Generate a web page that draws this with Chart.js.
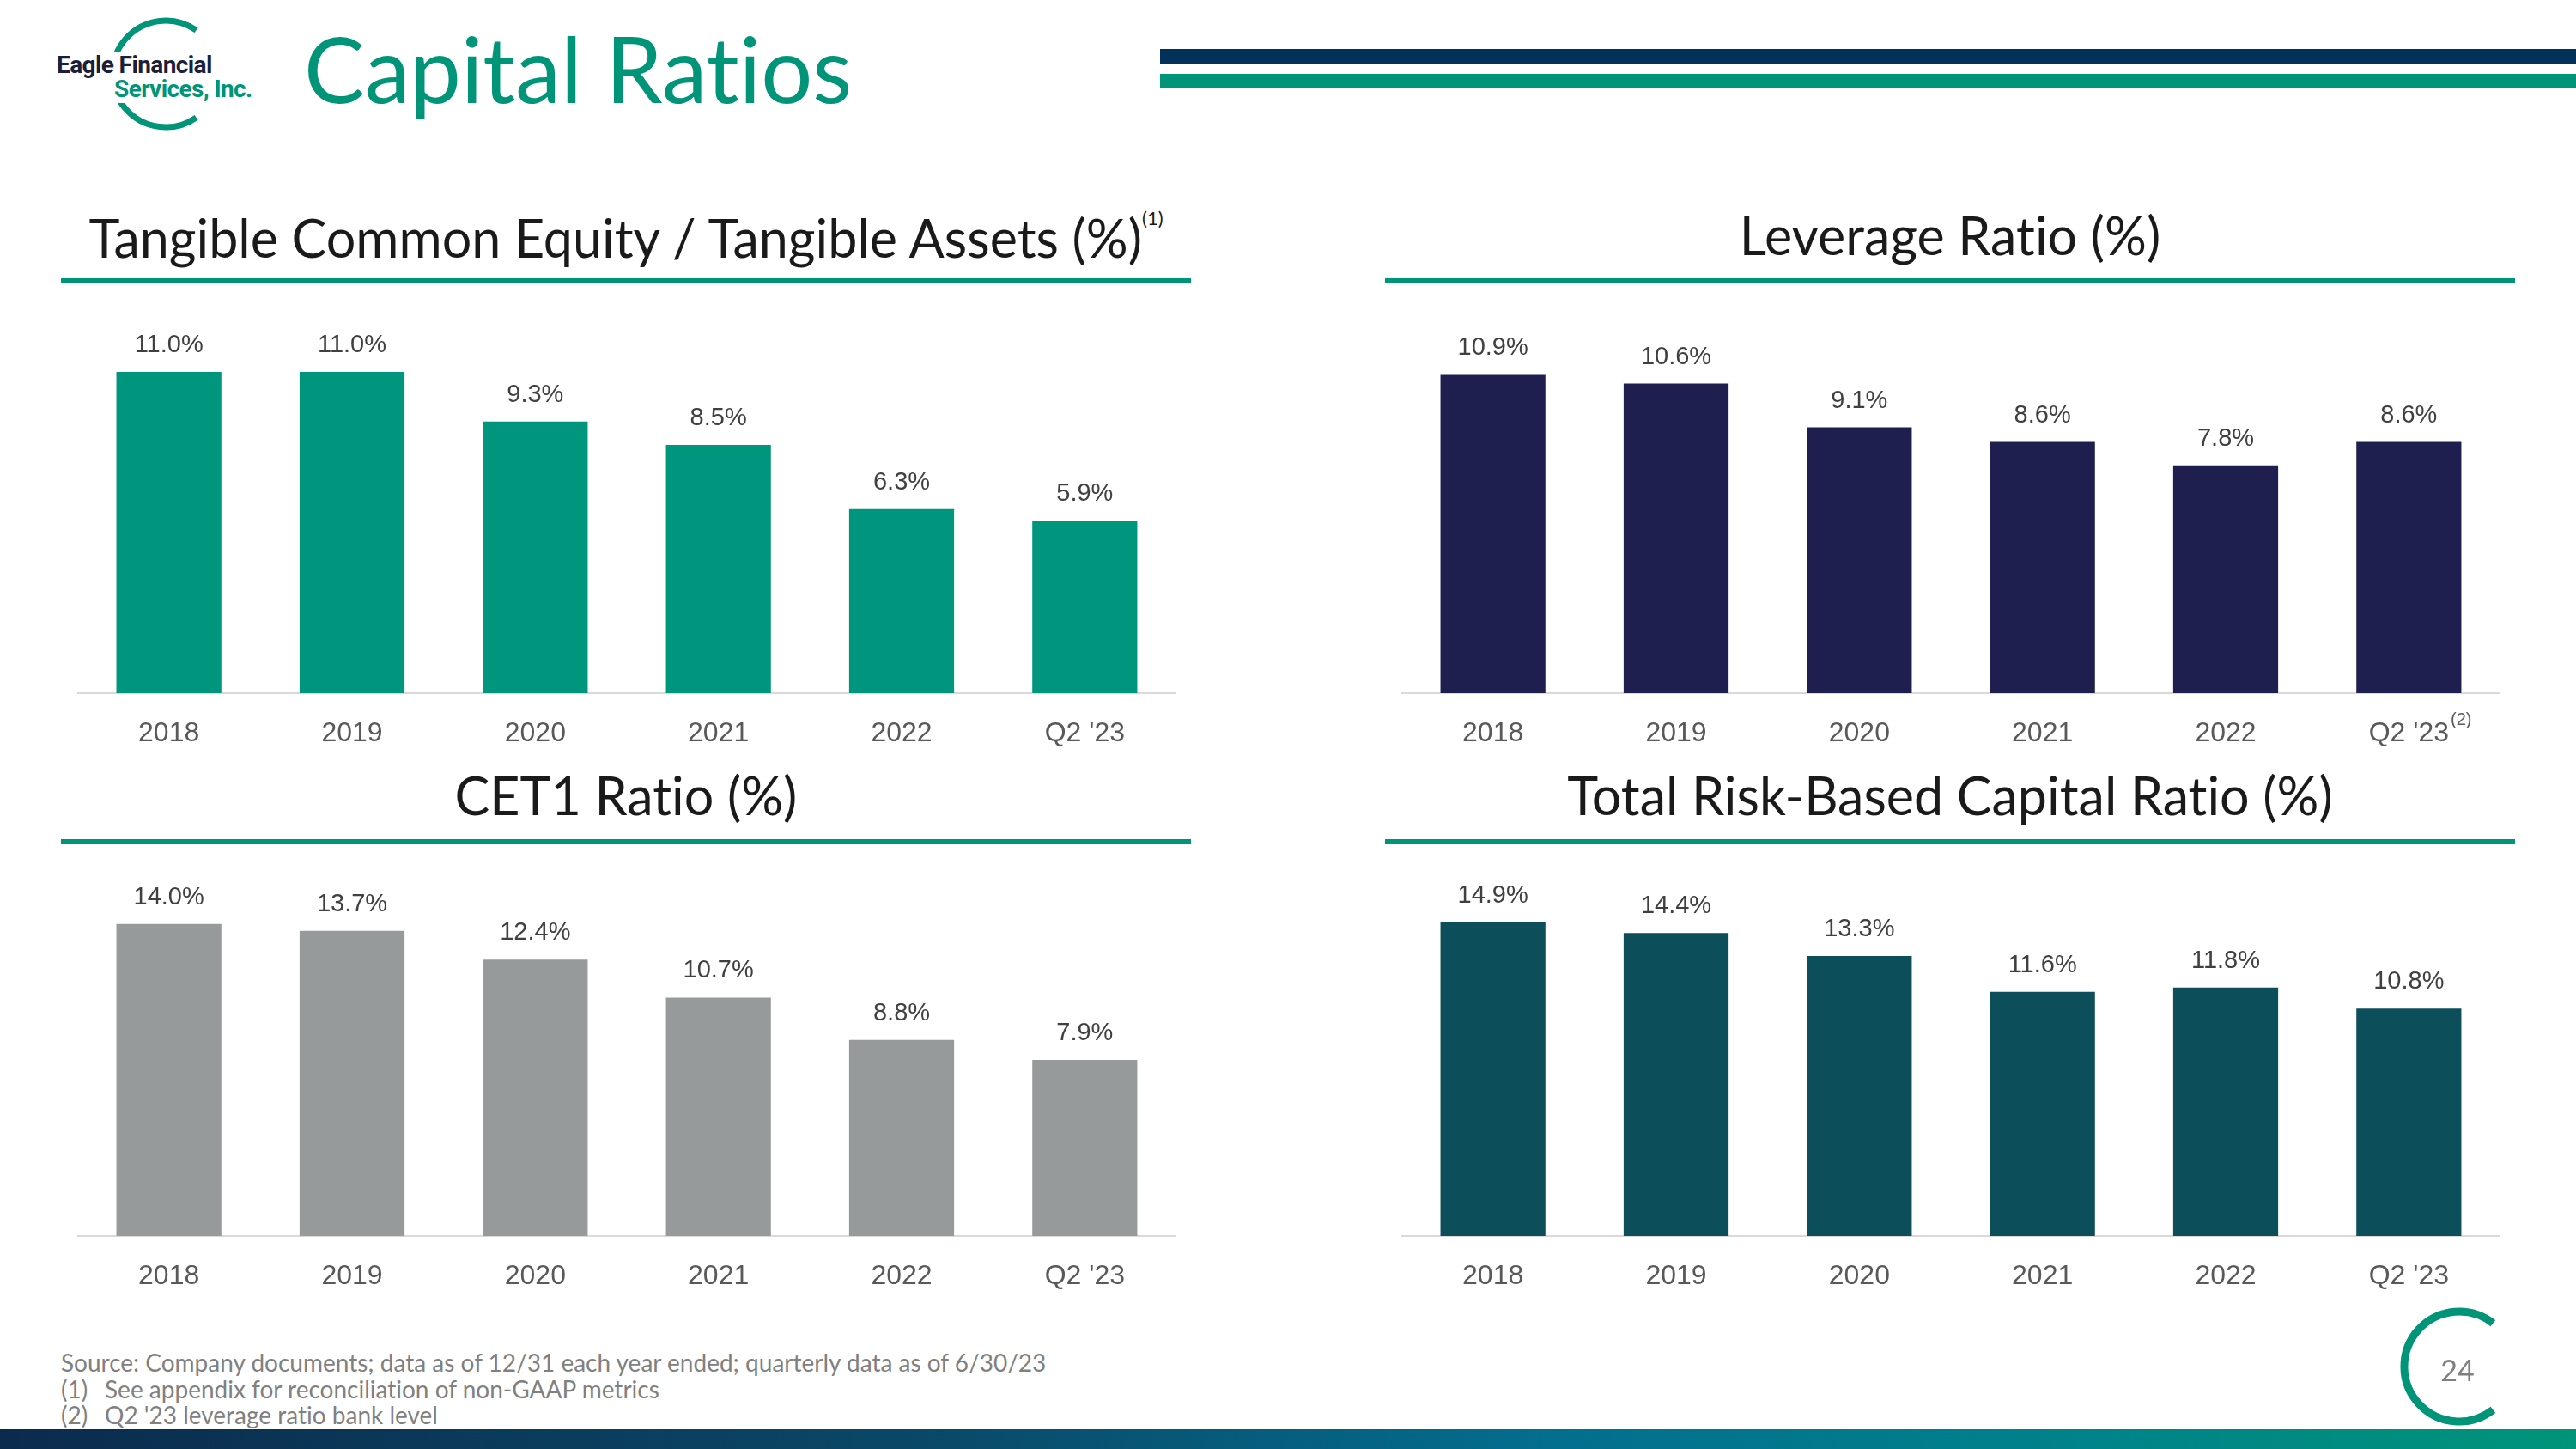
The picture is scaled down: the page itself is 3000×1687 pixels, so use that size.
<!DOCTYPE html>
<html lang="en">
<head>
<meta charset="UTF-8">
<title>Capital Ratios</title>
<script src="https://cdn.jsdelivr.net/npm/chart.js"></script>
<style>
  body { margin: 0; width: 3000px; height: 1687px; position: relative; overflow: hidden; background: #fff; font-family: Lato, Arial, sans-serif; font-variant-ligatures: none; }
  .abs { position: absolute; }
  .title { left: 354px; top: 26px; font-size: 106px; line-height: 1; color: #009479; white-space: nowrap; }
  .bar1 { left: 1351px; top: 57px; width: 1649px; height: 17px; background: #02315a; }
  .bar2 { left: 1351px; top: 86px; width: 1649px; height: 17px; background: #009479; }
  .sec { width: 1316px; text-align: center; font-size: 61px; line-height: 1; color: #1a1a1a; white-space: nowrap; }
  .sec sup { font-size: 22px; vertical-align: 38px; }
  .rule { width: 1316px; height: 6px; background: #009479; }
  .box { position: absolute; }
  .note { left: 71px; font-size: 28px; line-height: 1; color: #808080; white-space: nowrap; }
  .note span { display: inline-block; width: 51px; }
  .foot { left: 0; top: 1664px; width: 3000px; height: 23px;
          background: linear-gradient(90deg, #0b2b4c 0%, #0a4766 35%, #036e8e 60%, #00828a 80%, #009479 100%); }
  .page { left: 2822px; top: 1578px; width: 80px; text-align: center; font-size: 34px; line-height: 1; color: #808080; }
  .logo1, .logo2 { font-family: Roboto, sans-serif; font-weight: 700; font-size: 28px; line-height: 1; background: #fff; letter-spacing: -0.6px; padding: 2px 3px; }
  .logo1 { left: 63px; top: 60px; color: #1b1f3b; }
  .logo2 { left: 122px; top: 88px; color: #009479; padding-left: 11px; }
</style>
</head>
<body>
<svg class="abs" style="left:0;top:0" width="320" height="170">
  <path d="M 228.6 35.2 A 62 62 0 1 0 228.6 136.8" fill="none" stroke="#009479" stroke-width="7"/>
</svg>
<div class="abs logo1">Eagle Financial</div>
<div class="abs logo2">Services, Inc.</div>
<div class="abs title">Capital Ratios</div>
<div class="abs bar1"></div>
<div class="abs bar2"></div>

<div class="abs sec" style="left:71px;top:243px">Tangible Common Equity / Tangible Assets (%)<sup>(1)</sup></div>
<div class="abs sec" style="left:1613px;top:243px">Leverage Ratio (%)</div>
<div class="abs rule" style="left:71px;top:324px"></div>
<div class="abs rule" style="left:1613px;top:324px"></div>
<div class="abs sec" style="left:71px;top:895px">CET1 Ratio (%)</div>
<div class="abs sec" style="left:1613px;top:895px">Total Risk-Based Capital Ratio (%)</div>
<div class="abs rule" style="left:71px;top:977px"></div>
<div class="abs rule" style="left:1613px;top:977px"></div>

<div class="box" style="left:90px;top:330px;width:1280px;height:557px"><canvas id="tce"></canvas></div>
<div class="box" style="left:1632px;top:330px;width:1280px;height:557px"><canvas id="lev"></canvas></div>
<div class="box" style="left:90px;top:985px;width:1280px;height:534px"><canvas id="cet1"></canvas></div>
<div class="box" style="left:1632px;top:985px;width:1280px;height:534px"><canvas id="trbc"></canvas></div>

<div class="abs note" style="top:1572px">Source: Company documents; data as of 12/31 each year ended; quarterly data as of 6/30/23</div>
<div class="abs note" style="top:1603px"><span>(1)</span>See appendix for reconciliation of non-GAAP metrics</div>
<div class="abs note" style="top:1633px"><span>(2)</span>Q2 '23 leverage ratio bank level</div>

<svg class="abs" style="left:2780px;top:1510px" width="140" height="160">
  <path d="M 123.4 30.6 A 64 64 0 1 0 123.4 131.4" fill="none" stroke="#009479" stroke-width="9"/>
</svg>
<div class="abs page">24</div>
<div class="abs foot"></div>

<script>
  const categories = ['2018', '2019', '2020', '2021', '2022', "Q2 '23"];
  const tceValues = [11.0, 11.0, 9.3, 8.5, 6.3, 5.9];
  const leverageValues = [10.9, 10.6, 9.1, 8.6, 7.8, 8.6];
  const cet1Values = [14.0, 13.7, 12.4, 10.7, 8.8, 7.9];
  const trbcValues = [14.9, 14.4, 13.3, 11.6, 11.8, 10.8];

  const tickFont = { family: 'Liberation Sans', size: 32 };

  const valueLabels = {
    id: 'valueLabels',
    afterDatasetsDraw(chart) {
      const ctx = chart.ctx;
      const values = chart.data.datasets[0].data;
      ctx.save();
      ctx.font = '29px "Liberation Sans"';
      ctx.fillStyle = '#404040';
      ctx.textAlign = 'center';
      ctx.textBaseline = 'middle';
      chart.getDatasetMeta(0).data.forEach((bar, i) => {
        ctx.fillText(values[i].toFixed(1) + '%', bar.x, bar.y - 31);
      });
      ctx.restore();
    }
  };

  // small superscript after one tick label
  function tickNote(index, text) {
    return {
      id: 'tickNote',
      afterDraw(chart) {
        const ctx = chart.ctx;
        ctx.save();
        ctx.font = tickFont.size + 'px "' + tickFont.family + '"';
        const w = ctx.measureText(chart.data.labels[index]).width;
        const x = chart.scales.x.getPixelForTick(index) + w / 2 + 2;
        ctx.font = '20px "Liberation Sans"';
        ctx.fillStyle = '#595959';
        ctx.textAlign = 'left';
        ctx.textBaseline = 'middle';
        ctx.fillText(text, x, chart.chartArea.bottom + 31);
        ctx.restore();
      }
    };
  }

  function makeChart(id, values, color, yMax, padTop, note) {
    const plugins = [valueLabels];
    if (note) plugins.push(tickNote(5, note));
    return new Chart(document.getElementById(id), {
      type: 'bar',
      data: {
        labels: categories,
        datasets: [{
          data: values,
          backgroundColor: color,
          barPercentage: 0.573,
          categoryPercentage: 1
        }]
      },
      options: {
        responsive: true,
        maintainAspectRatio: false,
        animation: false,
        devicePixelRatio: 1,
        layout: { padding: { top: padTop, left: 0, right: 0, bottom: 0 } },
        plugins: { legend: { display: false }, tooltip: { enabled: false } },
        scales: {
          x: {
            grid: { display: false, drawTicks: false },
            border: { display: true, color: '#d9d9d9', width: 2 },
            ticks: { color: '#595959', font: tickFont, padding: 28, maxRotation: 0, autoSkip: false },
            afterFit: s => { s.height = 80; }
          },
          y: { display: false, min: 0, max: yMax }
        }
      },
      plugins: plugins
    });
  }

  makeChart('tce', tceValues, '#00967d', 12.0, 69);
  makeChart('lev', leverageValues, '#1e1f4f', 12.0, 69, '(2)');
  makeChart('cet1', cet1Values, '#979a9a', 15.73, 46);
  makeChart('trbc', trbcValues, '#0d4e5b', 16.65, 46);
</script>
</body>
</html>
